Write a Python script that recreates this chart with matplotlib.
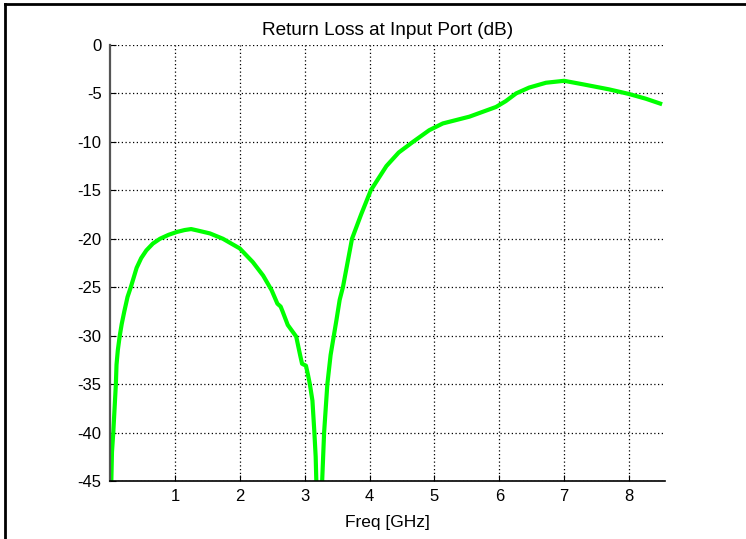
import matplotlib
matplotlib.use("Agg")
import matplotlib.pyplot as plt
from matplotlib.lines import Line2D

plt.rcParams['font.family'] = ['Liberation Sans', 'DejaVu Sans']
plt.rcParams['axes.unicode_minus'] = False

# return loss curve
freq = [0.0, 0.02, 0.03, 0.05, 0.07, 0.09, 0.10, 0.12, 0.13, 0.15, 0.18, 0.22,
        0.27, 0.32, 0.41, 0.48, 0.56, 0.66, 0.77, 0.9, 1.03, 1.15, 1.25, 1.35,
        1.54, 1.74, 2.0, 2.2, 2.36, 2.49, 2.58, 2.63, 2.66, 2.74, 2.87, 2.93,
        2.96, 3.02, 3.05, 3.08, 3.12, 3.15, 3.17, 3.18, 3.19, 3.23, 3.26, 3.27,
        3.30, 3.35, 3.40, 3.45, 3.49, 3.54, 3.59, 3.66, 3.73, 3.87, 4.02, 4.26,
        4.45, 4.67, 4.92, 5.13, 5.54, 5.95, 6.1, 6.26, 6.46, 6.72, 7.0, 7.28,
        7.69, 8.0, 8.26, 8.48]
rl = [-50, -45, -42, -40, -37.5, -35, -33, -31.5, -31, -30, -28.8, -27.5,
      -26.0, -25, -23, -22, -21.2, -20.5, -20.0, -19.6, -19.3, -19.1, -19.0, -19.15,
      -19.45, -20.0, -21.0, -22.4, -23.8, -25.3, -26.7, -27.0, -27.5, -28.9, -30.1, -32.0,
      -32.9, -33.1, -34.0, -35, -36.7, -40, -42.5, -45, -50, -60, -50, -45,
      -40, -35, -32, -30, -28.4, -26.3, -25, -22.5, -20, -17.5, -15, -12.5,
      -11.1, -10, -8.8, -8.1, -7.4, -6.4, -5.8, -5.0, -4.4, -3.9, -3.7, -4.05,
      -4.58, -5.06, -5.55, -6.05]

xticks = [1, 2, 3, 4, 5, 6, 7, 8]
yticks = [0, -5, -10, -15, -20, -25, -30, -35, -40, -45]

fig = plt.figure(figsize=(7.46, 5.39), dpi=100)
ax = fig.add_axes([0.1475, 0.1076, 0.7435, 0.809])

ax.plot(freq, rl, color='#00ff00', lw=3, solid_joinstyle='round')

ax.set_xlim(0, 8.55)
ax.set_ylim(-45, 0)
ax.set_xticks(xticks)
ax.set_yticks(yticks)
ax.grid(True, color='black', linestyle=(0, (1, 2)), lw=0.9)
ax.tick_params(direction='in', length=4, labelsize=12, pad=6)

ax.spines['top'].set_visible(False)
ax.spines['right'].set_visible(False)
ax.spines['left'].set_color('#555555')
ax.spines['left'].set_linewidth(1.6)
ax.spines['bottom'].set_color('black')
ax.spines['bottom'].set_linewidth(1.2)

ax.set_title('Return Loss at Input Port (dB)', fontsize=13.7, pad=7)
ax.set_xlabel('Freq [GHz]', fontsize=12.5, labelpad=8)

# border lines of the figure window
fig.add_artist(Line2D([0.0067, 0.0067], [0, 0.993], color='black', lw=2))
fig.add_artist(Line2D([0.0067, 1], [0.993, 0.993], color='black', lw=2))

fig.savefig('out.png', dpi=100)
